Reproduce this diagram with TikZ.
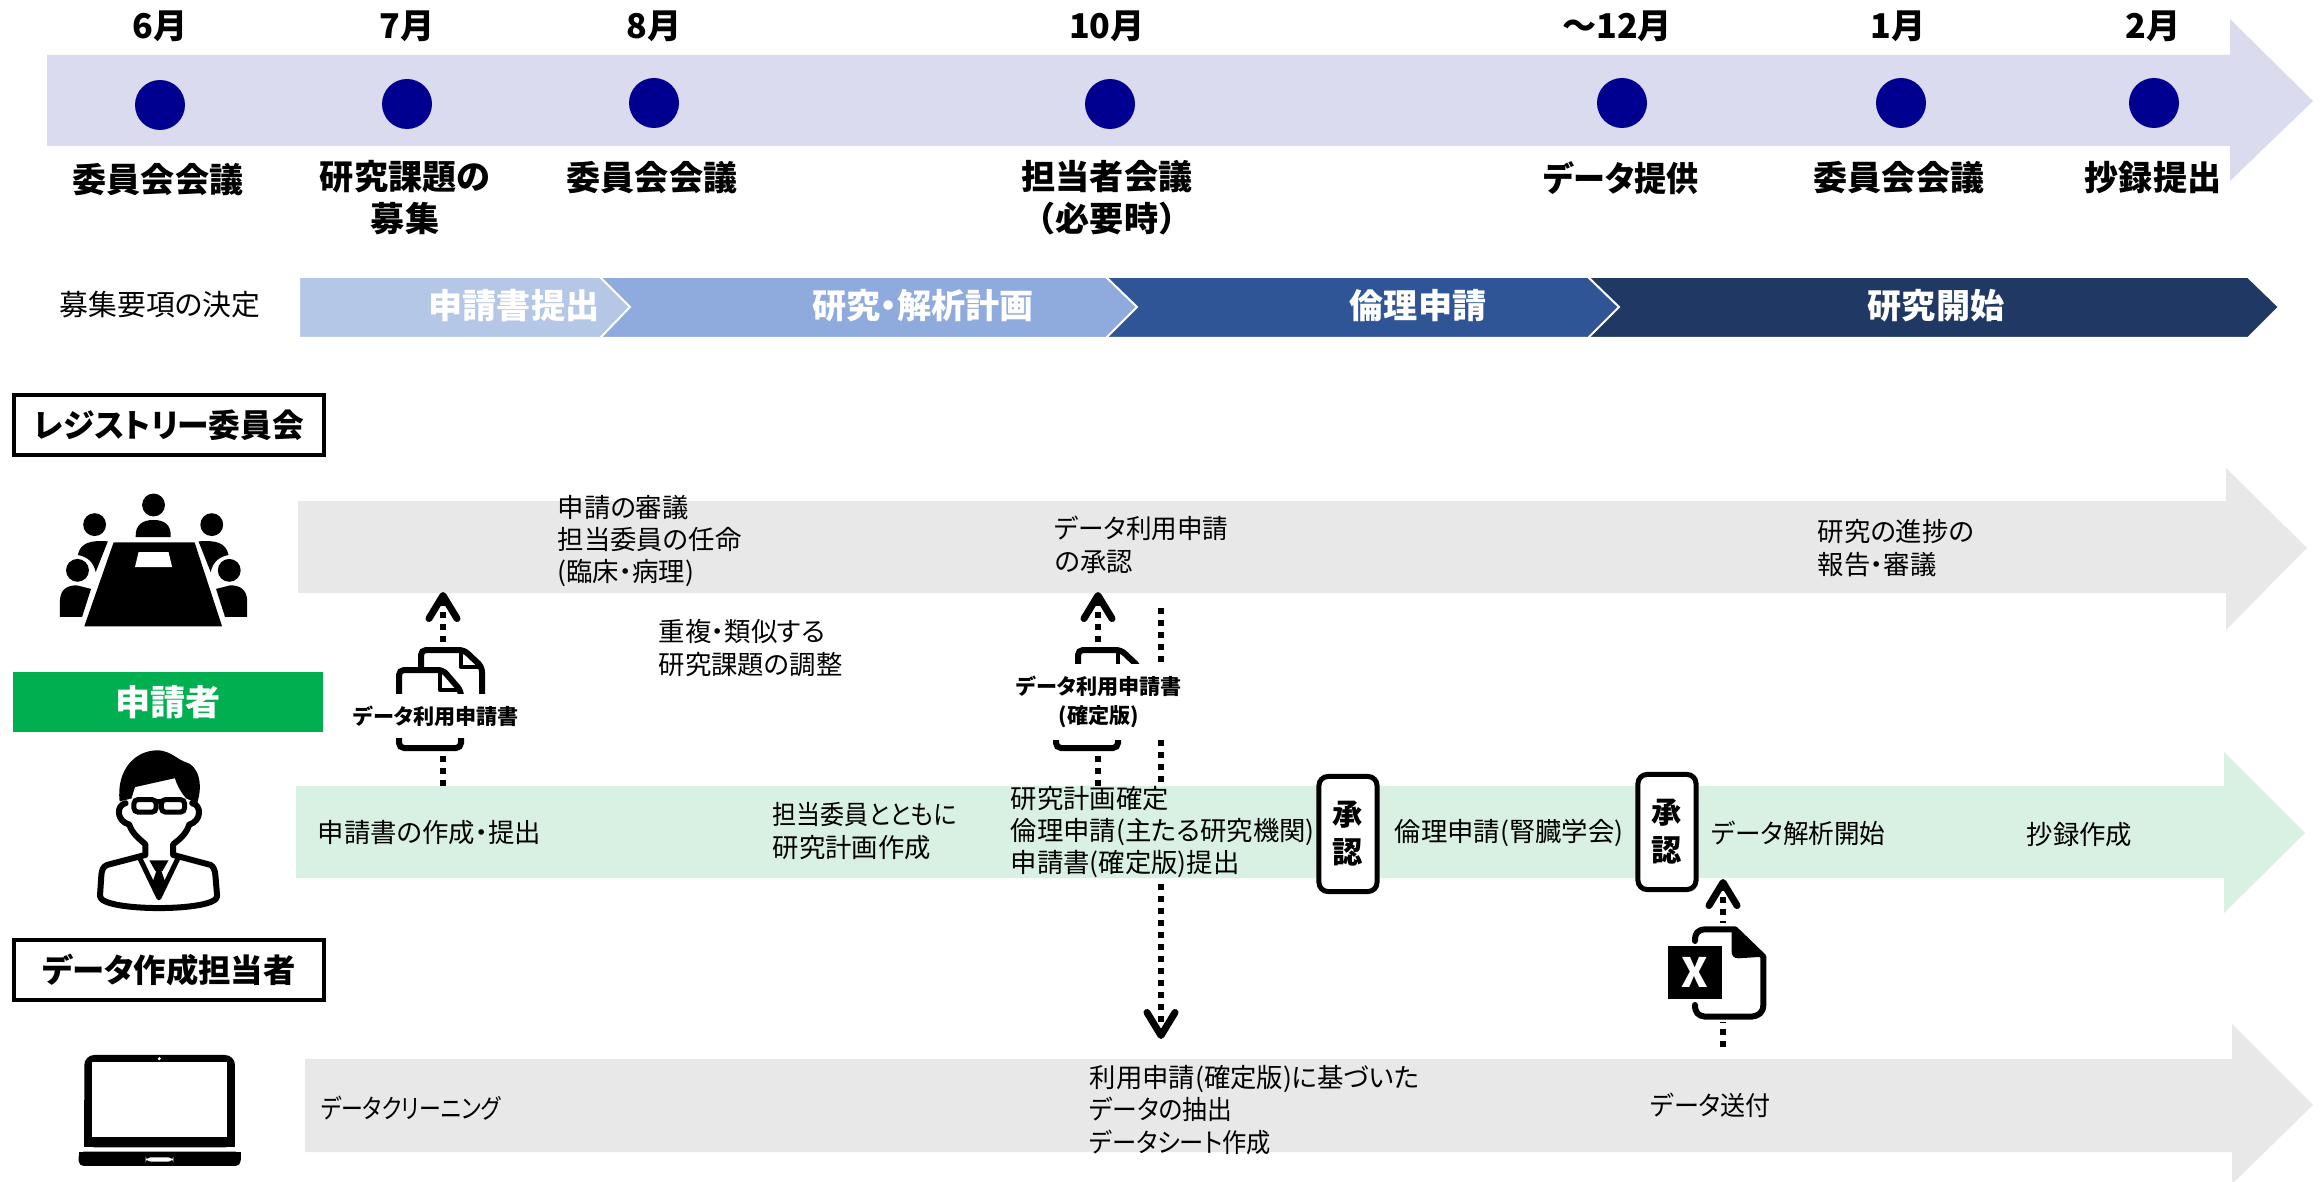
\documentclass[tikz,border=0pt]{standalone}
\usepackage{fontspec}
\usepackage{graphicx}
\setmainfont[RawFeature=+palt]{Noto Sans CJK JP}
\newfontfamily\fullcjk{Noto Sans CJK JP}
\usepackage{tikz}
\usepackage{xcolor}
\usetikzlibrary{arrows.meta}
\definecolor{bandtop}{HTML}{DADBEE}
\definecolor{bandgrey}{HTML}{E8E8E8}
\definecolor{bandgreen}{HTML}{D9F1E3}
\definecolor{navydot}{HTML}{000090}
\definecolor{stepone}{HTML}{B4C7E7}
\definecolor{steptwo}{HTML}{8FAADC}
\definecolor{stepthree}{HTML}{2F5597}
\definecolor{stepfour}{HTML}{1F3864}
\definecolor{rolegreen}{HTML}{00B050}
\newcommand{\squeeze}[2]{\scalebox{#1}[1]{#2}}

\begin{document}
\begin{tikzpicture}[x=0.01cm, y=-0.01cm,
    >={Straight Barb[round,length=2.3mm,width=2.8mm,line width=0.7mm]},
    head/.style={font=\fontsize{9.7}{12}\selectfont\bfseries, align=center, inner sep=0pt},
    body/.style={font=\fontsize{7.5}{9.2}\selectfont, anchor=west, align=left, inner sep=0pt},
    steplabel/.style={font=\fontsize{9.7}{12}\selectfont\bfseries, text=white, inner sep=0pt},
    rolebox/.style={font=\fontsize{9.2}{12}\selectfont\bfseries, draw=black, line width=0.45mm, fill=white,
      minimum width=3.1cm, minimum height=0.6cm, inner sep=0pt},
    sendarrow/.style={->, line width=0.6mm, dash pattern=on 0.6mm off 0.6mm},
    doclabel/.style={font=\fontsize{6}{8.2}\selectfont\bfseries, align=center, fill=white, inner xsep=0pt},
    approve/.style={font=\fontsize{8.6}{10.8}\selectfont\bfseries, align=center, draw=black, fill=white,
      line width=0.5mm, rounded corners=0.9mm, minimum width=0.58cm, minimum height=1.15cm, inner sep=0pt},
    docstroke/.style={line width=0.6mm, rounded corners=0.5mm},
    iconline/.style={line width=0.6mm, line join=round, line cap=round},
    docicon/.pic={
      \draw[docstroke] (22,44) -- (22,0) -- (65,0) -- (83,17) -- (83,44);
      \fill[white] (0,20) rectangle (62,44);
      \draw[docstroke] (0,44) -- (0,20) -- (44,20) -- (62,41) -- (62,44);
      \draw[line width=0.45mm, line join=round] (62,0) -- (62,17) -- (83,17);
      \draw[line width=0.45mm, line join=round] (41,20) -- (41,40) -- (62,40);
      \draw[docstroke] (0,83) -- (0,98) -- (62,98) -- (62,83);
    }]
  \useasboundingbox (0,0) rectangle (2320,1182);

  % timeline
  \fill[bandtop] (47,55) -- (2230,55) -- (2230,19) -- (2313,101) -- (2230,181) -- (2230,146) -- (47,146) -- cycle;
  \foreach \x/\y in {160/105, 407/104, 654/103, 1110/104, 1622/103, 1901/103, 2154/103} {
    \fill[navydot] (\x,\y) circle (25);
  }
  \node[head] (m6) at (160,26) {6月};
  \node[head] (m7) at (407,26) {7月};
  \node[head] (m8) at (654,26) {8月};
  \node[head] (m10) at (1107,26) {10月};
  \node[head] (m12) at (1617,26) {～12月};
  \node[head] (m1) at (1898,26) {1月};
  \node[head] (m2) at (2153,26) {2月};

  \node[head] (junemeet) at (158,180) {委員会会議};
  \node[head] (call) at (405,198) {研究課題の\\募集};
  \node[head] (augmeet) at (652,178) {委員会会議};
  \node[head] (staffmeet) at (1107,198) {担当者会議\\{\fullcjk （必要時）}};
  \node[head] (datagive) at (1621,178) {\squeeze{0.94}{データ提供}};
  \node[head] (janmeet) at (1899,178) {委員会会議};
  \node[head] (abstract) at (2153,178) {抄録提出};
  \node[font=\fontsize{8.2}{10}\selectfont, inner sep=0pt] (decide) at (160,305) {募集要項の決定};

  % phases, last one first
  \filldraw[fill=stepfour, draw=white, line width=0.2mm] (1588,277) -- (2248,277) -- (2279,307) -- (2248,338) -- (1588,338) -- cycle;
  \filldraw[fill=stepthree, draw=white, line width=0.2mm] (1106,277) -- (1588,277) -- (1619,307) -- (1588,338) -- (1106,338) -- cycle;
  \filldraw[fill=steptwo, draw=white, line width=0.2mm] (600,277) -- (1106,277) -- (1137,307) -- (1106,338) -- (600,338) -- cycle;
  \filldraw[fill=stepone, draw=white, line width=0.2mm] (299,277) -- (600,277) -- (630,307) -- (600,338) -- (299,338) -- cycle;
  \node[steplabel] (phaseone) at (514,306) {申請書提出};
  \node[steplabel] (phasetwo) at (923,306) {研究・解析計画};
  \node[steplabel] (phasethree) at (1418,306) {倫理申請};
  \node[steplabel] (phasefour) at (1936,306) {研究開始};

  % roles
  \node[rolebox] (committee) at (169,425) {\squeeze{0.98}{レジストリー委員会}};
  \node[rolebox, draw=none, fill=rolegreen, text=white, font=\fontsize{10}{12}\selectfont\bfseries] (applicant) at (168,702) {申請者};
  \node[rolebox] (dataperson) at (169,970) {データ作成担当者};

  % grey lanes
  \fill[bandgrey] (298,501) -- (2226,501) -- (2226,468) -- (2307,548) -- (2226,630) -- (2226,593) -- (298,593) -- cycle;
  \fill[bandgrey] (305,1059) -- (2232,1059) -- (2232,1024) -- (2313,1105) -- (2232,1184) -- (2232,1152) -- (305,1152) -- cycle;

  \coordinate (plandown) at (1161,608);
  \coordinate (planend) at (1161,1039);
  \draw[sendarrow] (plandown) -- (planend);

  % green lane
  \fill[bandgreen] (296,786) -- (2224,786) -- (2224,752) -- (2305,833) -- (2224,913) -- (2224,878) -- (296,878) -- cycle;

  \coordinate (formfrom) at (443,786);
  \coordinate (formto) at (443,592);
  \coordinate (finalfrom) at (1098,786);
  \coordinate (finalto) at (1098,592);
  \coordinate (sheetfrom) at (1723,1047);
  \coordinate (sheetto) at (1723,879);
  \draw[sendarrow] (formfrom) -- (formto);
  \draw[sendarrow] (finalfrom) -- (finalto);
  \draw[sendarrow] (sheetfrom) -- (sheetto);

  % document icons
  \fill[white] (395,645) rectangle (490,752);
  \pic at (399,650) {docicon};
  \node[doclabel, minimum height=0.38cm] (formlabel) at (436,716) {データ利用申請書};
  \fill[white] (1052,645) rectangle (1147,752);
  \pic at (1056,650) {docicon};
  \node[doclabel, minimum height=0.72cm] (finallabel) at (1099,702) {データ利用申請書\\(確定版)};

  % excel sheet
  \begin{scope}[shift={(1560,740)}, scale=0.3333]
    \fill[white] (315,550) rectangle (630,845);
    \draw[iconline] (405,603) .. controls (405,580) and (412,570) .. (435,568) -- (525,568) -- (610,650) -- (610,795) .. controls (610,818) and (595,828) .. (575,830) -- (435,830) .. controls (415,828) and (405,818) .. (405,795);
    \fill (515,565) -- (612,650) -- (535,655) .. controls (520,655) and (515,645) .. (515,635) -- cycle;
    \fill (325,618) rectangle (485,778);
    \node[font=\fontsize{11.5}{12}\selectfont\bfseries, text=white, inner sep=0pt] (xmark) at (405,698) {X};
  \end{scope}

  % meeting
  \begin{scope}[shift={(0,380)}, scale=0.3571]
    \fill (318,455) -- (545,455) -- (622,690) -- (236,690) -- cycle;
    \fill[white] (388,482) -- (472,482) -- (482,524) -- (378,524) -- cycle;
    \fill (430,350) circle (32);
    \fill (380,440) .. controls (378,405) and (400,392) .. (430,392) .. controls (460,392) and (480,405) .. (478,440) -- cycle;
    \fill (265,405) circle (32);
    \fill (593,405) circle (32);
    \fill (218,490) .. controls (225,455) and (255,448) .. (302,452) -- (268,538) .. controls (262,510) and (245,495) .. (218,490) -- cycle;
    \fill (640,490) .. controls (633,455) and (603,448) .. (556,452) -- (590,538) .. controls (596,510) and (613,495) .. (640,490) -- cycle;
    \fill (217,533) circle (32);
    \fill (642,533) circle (32);
    \fill (168,663) -- (168,615) .. controls (170,585) and (190,575) .. (215,575) -- (255,585) -- (230,663) -- cycle;
    \fill (692,663) -- (692,615) .. controls (690,585) and (670,575) .. (645,575) -- (605,585) -- (630,663) -- cycle;
  \end{scope}

  % applicant
  \begin{scope}[shift={(0,380)}, scale=0.3571]
    \draw[iconline] (352,1185) .. controls (325,1190) and (325,1235) .. (362,1245) .. controls (370,1270) and (390,1285) .. (407,1300) -- (407,1330) -- (300,1358) .. controls (288,1362) and (285,1375) .. (284,1385) -- (280,1445) .. controls (280,1490) and (610,1490) .. (608,1445) -- (603,1385) .. controls (602,1375) and (598,1362) .. (590,1358) -- (485,1330) -- (485,1300) .. controls (505,1285) and (522,1270) .. (530,1245) .. controls (565,1235) and (565,1190) .. (538,1185);
    \fill (335,1180) .. controls (325,1090) and (380,1035) .. (445,1037) .. controls (480,1040) and (500,1065) .. (520,1070) .. controls (555,1080) and (570,1130) .. (552,1185) -- (522,1172) .. controls (510,1160) and (495,1135) .. (490,1115) -- (378,1140) -- (368,1172) -- cycle;
    \draw[line width=0.5mm, rounded corners=0.4mm] (375,1175) rectangle (437,1210);
    \draw[line width=0.5mm, rounded corners=0.4mm] (452,1175) rectangle (517,1210);
    \draw[line width=0.5mm] (437,1180) -- (452,1180);
    \draw[line width=0.5mm, line join=round] (392,1340) -- (445,1450) -- (498,1340);
    \fill (418,1345) -- (472,1345) -- (455,1375) -- (435,1375) -- cycle;
    \fill (438,1375) -- (452,1375) -- (465,1412) -- (445,1452) -- (425,1412) -- cycle;
  \end{scope}

  % laptop
  \begin{scope}[shift={(0,1000)}, scale=0.3333]
    \fill[rounded corners=1mm] (253,442) -- (253,165) -- (705,165) -- (705,442) -- cycle;
    \fill (253,300) rectangle (705,442);
    \fill[white] (275,187) rectangle (682,410);
    \fill[white] (478,176) circle (5);
    \fill[rounded corners=0.5mm] (236,455) -- (236,498) -- (722,498) -- (722,455) -- cycle;
    \fill (236,455) rectangle (722,480);
    \fill[white, rounded corners=0.5mm] (437,472) rectangle (520,485);
  \end{scope}

  % approvals
  \node[approve] (okone) at (1348,834) {承\\認};
  \node[approve] (oktwo) at (1667,832) {承\\認};

  % lane texts
  \node[body] (review) at (557,541) {申請の審議\\担当委員の任命\\(臨床・病理)};
  \node[body] (useok) at (1054,545) {\squeeze{0.97}{データ利用申請}\\の承認};
  \node[body] (report) at (1817,548) {研究の進捗の\\報告・審議};
  \node[body] (adjust) at (658,648) {重複・類似する\\研究課題の調整};
  \node[body] (write) at (317,833) {申請書の作成・提出};
  \node[body] (plan) at (772,831) {\squeeze{0.91}{担当委員とともに}\\研究計画作成};
  \node[body] (fix) at (1010,832) {研究計画確定\\倫理申請(主たる研究機関)\\申請書(確定版)提出};
  \node[body] (ethics) at (1394,833) {倫理申請(腎臓学会)};
  \node[body] (analyse) at (1711,833) {\squeeze{0.97}{データ解析開始}};
  \node[body] (abswrite) at (2026,835) {抄録作成};
  \node[body] (clean) at (320,1108) {\squeeze{0.83}{データクリーニング}};
  \node[body] (extract) at (1089,1110) {利用申請(確定版)に基づいた\\\squeeze{0.94}{データの抽出}\\\squeeze{0.92}{データシート作成}};
  \node[body] (send) at (1650,1105) {\squeeze{0.95}{データ送付}};
\end{tikzpicture}
\end{document}
